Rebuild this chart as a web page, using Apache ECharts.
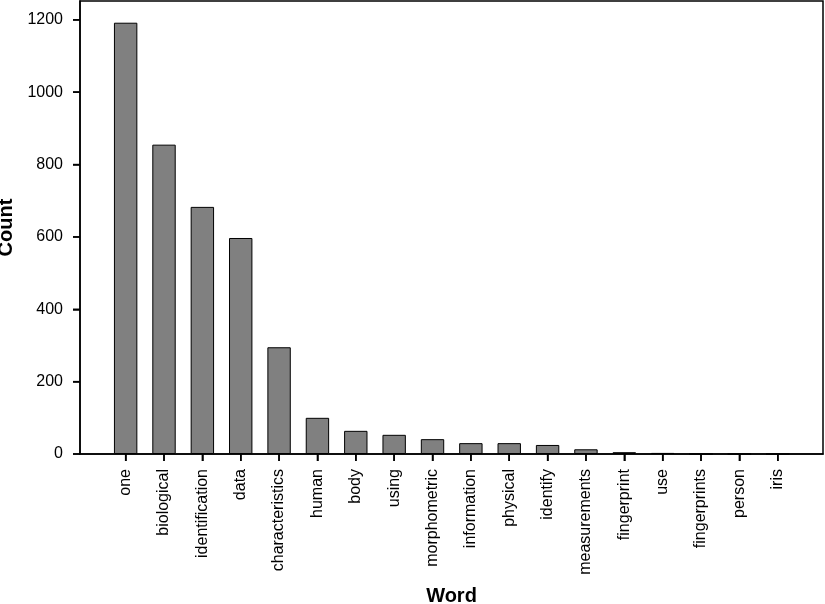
<!DOCTYPE html>
<html>
<head>
<meta charset="utf-8">
<script src="https://cdn.jsdelivr.net/npm/echarts@6/dist/echarts.min.js"></script>
<style>
html,body{margin:0;padding:0;background:#fff;}
#chart{width:825px;height:604px;}
</style>
</head>
<body>
<div id="chart"></div>
<script>
const words = ['one','biological','identification','data','characteristics','human','body','using','morphometric','information','physical','identify','measurements','fingerprint','use','fingerprints','person','iris'];
const counts = [1192, 855, 683, 597, 295, 100, 64, 53, 41, 30, 30, 25, 13, 5, 3, 0, 0, 0];
const yTicks = [0, 200, 400, 600, 800, 1000, 1200];

const FONT = '"Liberation Sans", Arial, Helvetica, sans-serif';
const xIdx = words.map(function (w, i) { return i; });
const barData = counts.map(function (v, i) { return [i, v]; });

const chart = echarts.init(document.getElementById('chart'));
chart.setOption({
  animation: false,
  backgroundColor: '#fff',
  grid: {left: 80, right: 2, top: 1, bottom: 150, show: true, borderColor: '#000', borderWidth: 1.5, containLabel: false, outerBoundsMode: 'none'},
  xAxis: {
    type: 'value', min: -1.19, max: words.length - 1 + 1.18,
    splitLine: {show: false},
    axisLine: {show: true, onZero: false, lineStyle: {color: '#000', width: 1.5}},
    axisTick: {show: true, length: 7, customValues: xIdx, lineStyle: {color: '#000', width: 1.5}},
    axisLabel: {rotate: 90, fontSize: 16, color: '#000', fontFamily: FONT, margin: 15, customValues: xIdx,
      formatter: function (v) { return words[Math.round(v)] || ''; }},
    name: 'Word', nameLocation: 'middle', nameGap: 132,
    nameTextStyle: {fontSize: 20, fontWeight: 'bold', color: '#000', fontFamily: FONT}
  },
  yAxis: {
    type: 'value', min: 0, max: 1252,
    splitLine: {show: false},
    axisLine: {show: true, onZero: false, lineStyle: {color: '#000', width: 1.5}},
    axisTick: {show: true, length: 7, customValues: yTicks, lineStyle: {color: '#000', width: 1.5}},
    axisLabel: {fontSize: 16, color: '#000', fontFamily: FONT, margin: 17, customValues: yTicks,
      formatter: function (v) { return String(v); }},
    name: 'Count', nameLocation: 'middle', nameGap: 60,
    nameTextStyle: {fontSize: 20, fontWeight: 'bold', color: '#000', fontFamily: FONT}
  },
  series: [{
    type: 'bar',
    data: barData,
    barWidth: 23.4,
    itemStyle: {color: '#808080', borderColor: '#000', borderWidth: 1}
  }]
});

// Tick marks placed through the chart's own scales (fallback so they are always visible)
const tickLen = 7;
const tickGraphics = [];
xIdx.forEach(function (i) {
  const p = chart.convertToPixel({gridIndex: 0}, [i, 0]);
  tickGraphics.push({type: 'line', z: 100, silent: true,
    shape: {x1: p[0], y1: p[1], x2: p[0], y2: p[1] + tickLen},
    style: {stroke: '#000', lineWidth: 1.5}});
});
yTicks.forEach(function (v) {
  const p = chart.convertToPixel({gridIndex: 0}, [-1.19, v]);
  tickGraphics.push({type: 'line', z: 100, silent: true,
    shape: {x1: p[0] - tickLen, y1: p[1], x2: p[0], y2: p[1]},
    style: {stroke: '#000', lineWidth: 1.5}});
});
chart.setOption({graphic: tickGraphics});
</script>
</body>
</html>
